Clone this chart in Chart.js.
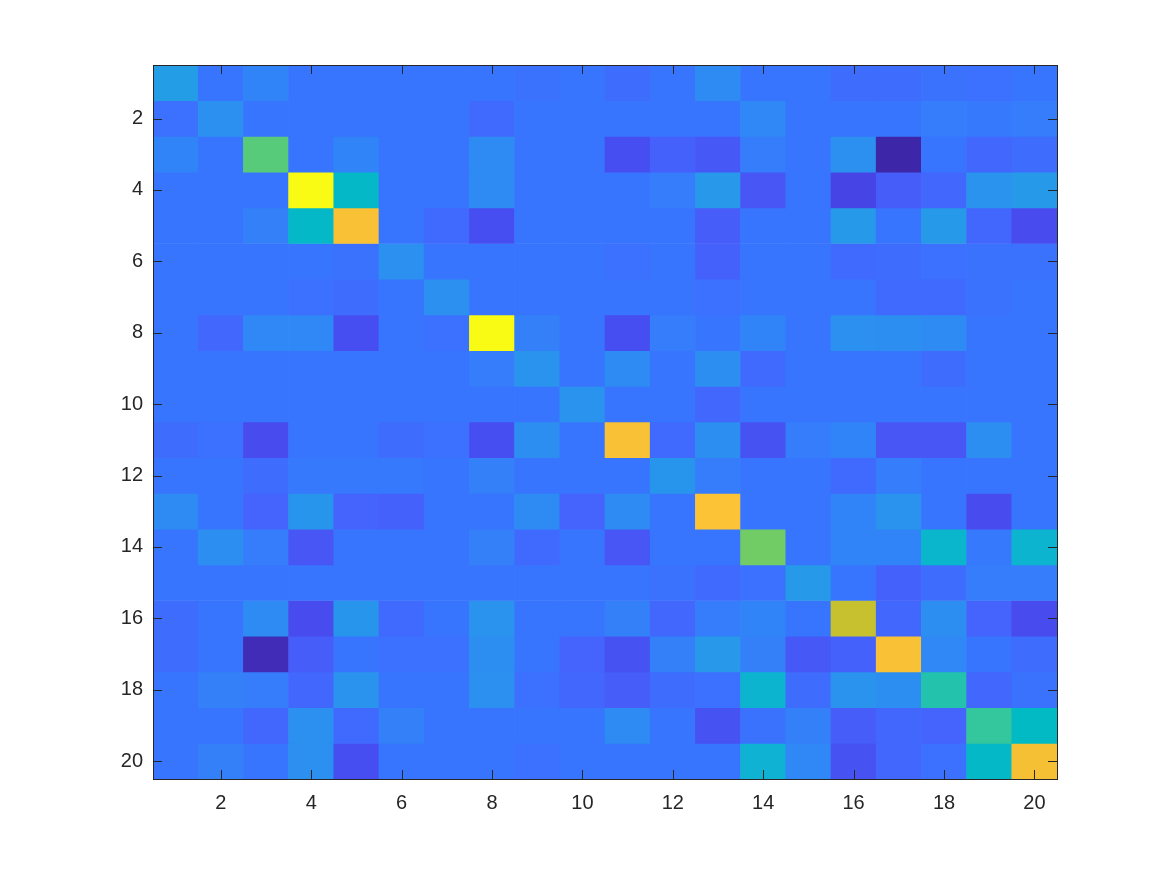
<!DOCTYPE html>
<html>
<head>
<meta charset="utf-8">
<script src="https://cdn.jsdelivr.net/npm/chart.js@4/dist/chart.umd.min.js"></script>
<style>
  html, body { margin: 0; padding: 0; background: #fff; }
  #wrap { width: 1167px; height: 875px; }
</style>
</head>
<body>
<div id="wrap"><canvas id="heat" width="1167" height="875"></canvas></div>
<script>
// ---- data: 20x20 matrix, row r = y, column c = x (values on the colour scale 0..1)
const rowLabels = [1,2,3,4,5,6,7,8,9,10,11,12,13,14,15,16,17,18,19,20];
const colLabels = [1,2,3,4,5,6,7,8,9,10,11,12,13,14,15,16,17,18,19,20];
const tickValues = [2,4,6,8,10,12,14,16,18,20];

const row1  = [0.38,0.25,0.29,0.25,0.25,0.25,0.25,0.25,0.24,0.25,0.22,0.25,0.31,0.25,0.25,0.22,0.22,0.24,0.23,0.25];
const row2  = [0.23,0.33,0.25,0.25,0.25,0.25,0.25,0.21,0.25,0.25,0.25,0.25,0.25,0.30,0.25,0.25,0.25,0.27,0.26,0.27];
const row3  = [0.29,0.25,0.64,0.25,0.29,0.25,0.25,0.31,0.25,0.25,0.13,0.18,0.16,0.27,0.25,0.33,0.00,0.25,0.20,0.22];
const row4  = [0.25,0.25,0.25,1.00,0.49,0.25,0.25,0.31,0.25,0.25,0.25,0.27,0.36,0.15,0.25,0.10,0.17,0.20,0.34,0.37];
const row5  = [0.25,0.25,0.28,0.49,0.86,0.25,0.21,0.13,0.25,0.25,0.25,0.25,0.17,0.25,0.25,0.37,0.25,0.37,0.20,0.12];
const row6  = [0.25,0.25,0.25,0.25,0.24,0.33,0.25,0.25,0.25,0.25,0.23,0.25,0.18,0.25,0.25,0.21,0.22,0.23,0.24,0.24];
const row7  = [0.25,0.25,0.25,0.23,0.22,0.25,0.33,0.25,0.25,0.25,0.25,0.25,0.23,0.25,0.25,0.25,0.21,0.21,0.24,0.25];
const row8  = [0.25,0.20,0.30,0.30,0.13,0.25,0.23,1.00,0.28,0.25,0.13,0.27,0.25,0.29,0.25,0.33,0.32,0.31,0.25,0.25];
const row9  = [0.25,0.25,0.25,0.25,0.25,0.25,0.25,0.27,0.34,0.25,0.31,0.25,0.32,0.21,0.25,0.25,0.25,0.22,0.25,0.25];
const row10 = [0.25,0.25,0.25,0.25,0.25,0.25,0.25,0.25,0.25,0.34,0.25,0.25,0.20,0.25,0.25,0.25,0.25,0.25,0.25,0.25];
const row11 = [0.22,0.23,0.12,0.25,0.25,0.22,0.23,0.13,0.32,0.25,0.86,0.21,0.32,0.14,0.27,0.29,0.15,0.15,0.32,0.25];
const row12 = [0.25,0.25,0.22,0.26,0.26,0.26,0.25,0.28,0.25,0.25,0.25,0.35,0.27,0.25,0.25,0.21,0.27,0.25,0.25,0.25];
const row13 = [0.31,0.25,0.19,0.35,0.19,0.18,0.25,0.25,0.31,0.19,0.31,0.25,0.87,0.25,0.25,0.29,0.34,0.25,0.12,0.25];
const row14 = [0.25,0.32,0.27,0.15,0.25,0.25,0.25,0.28,0.21,0.25,0.15,0.25,0.25,0.67,0.25,0.29,0.29,0.48,0.26,0.47];
const row15 = [0.25,0.25,0.25,0.25,0.25,0.25,0.25,0.25,0.25,0.25,0.25,0.24,0.21,0.23,0.37,0.25,0.18,0.22,0.27,0.27];
const row16 = [0.22,0.25,0.31,0.12,0.35,0.21,0.25,0.34,0.25,0.25,0.28,0.20,0.27,0.29,0.25,0.77,0.20,0.32,0.19,0.12];
const row17 = [0.22,0.25,0.02,0.17,0.25,0.23,0.23,0.32,0.25,0.19,0.14,0.28,0.36,0.28,0.16,0.18,0.86,0.30,0.25,0.22];
const row18 = [0.25,0.28,0.27,0.20,0.34,0.25,0.25,0.33,0.23,0.20,0.17,0.22,0.23,0.47,0.22,0.34,0.32,0.55,0.20,0.24];
const row19 = [0.25,0.25,0.20,0.33,0.21,0.28,0.25,0.25,0.25,0.25,0.31,0.25,0.14,0.24,0.28,0.17,0.20,0.19,0.58,0.50];
const row20 = [0.25,0.28,0.25,0.33,0.13,0.25,0.25,0.25,0.23,0.25,0.25,0.25,0.25,0.46,0.30,0.14,0.20,0.23,0.49,0.85];

const matrix = [row1,row2,row3,row4,row5,row6,row7,row8,row9,row10,
                row11,row12,row13,row14,row15,row16,row17,row18,row19,row20];

// parula colormap, sampled every 4th of 64 entries
const parula = [
  [0.2422,0.1504,0.6603],[0.2706,0.2147,0.8364],[0.2813,0.3006,0.9414],[0.2699,0.3892,0.9906],
  [0.2206,0.4603,0.9973],[0.1764,0.5499,0.9520],[0.1460,0.6091,0.9079],[0.0952,0.6798,0.8598],
  [0.0067,0.7312,0.7660],[0.1717,0.7670,0.6554],[0.2906,0.7973,0.5188],[0.5044,0.7993,0.3480],
  [0.7242,0.7698,0.1910],[0.9035,0.7330,0.1774],[0.9970,0.7659,0.2199],[0.9786,0.8386,0.1766],
  [0.9769,0.9839,0.0805]
];

const all = matrix.flat();
const vmin = Math.min(...all), vmax = Math.max(...all);

function colorFor(v) {
  const t = (v - vmin) / (vmax - vmin) * (parula.length - 1);
  const i = Math.min(Math.floor(t), parula.length - 2);
  const f = t - i;
  const a = parula[i], b = parula[i + 1];
  const rgb = a.map((c, k) => Math.round((c + (b[k] - c) * f) * 255));
  return 'rgb(' + rgb.join(',') + ')';
}

// one floating-bar dataset per row
const datasets = matrix.map((vals, ri) => ({
  data: vals.map((v, ci) => ({ x: colLabels[ci], y: [rowLabels[ri] - 0.5, rowLabels[ri] + 0.5] })),
  backgroundColor: vals.map(colorFor),
  borderWidth: 0,
  borderSkipped: false,
  grouped: false,
  barPercentage: 1,
  categoryPercentage: 1
}));

const axisColor = '#262626';

// matlab style box with inward ticks
const boxTicks = {
  id: 'boxTicks',
  afterDraw(chart) {
    const { ctx, chartArea: a, scales } = chart;
    const len = 9;
    ctx.save();
    ctx.strokeStyle = axisColor;
    ctx.lineWidth = 1;
    ctx.beginPath();
    tickValues.forEach(v => {
      const px = Math.round(scales.x.getPixelForValue(v)) + 0.5;
      ctx.moveTo(px, a.bottom); ctx.lineTo(px, a.bottom - len);
      ctx.moveTo(px, a.top); ctx.lineTo(px, a.top + len);
      const py = Math.round(scales.y.getPixelForValue(v)) + 0.5;
      ctx.moveTo(a.left, py); ctx.lineTo(a.left + len, py);
      ctx.moveTo(a.right, py); ctx.lineTo(a.right - len, py);
    });
    ctx.stroke();
    ctx.strokeRect(Math.round(a.left) + 0.5, Math.round(a.top) + 0.5,
                   Math.round(a.right - a.left), Math.round(a.bottom - a.top));
    ctx.restore();
  }
};

const tickFont = { family: '"Liberation Sans", Arial, Helvetica, sans-serif', size: 20 };

new Chart(document.getElementById('heat'), {
  type: 'bar',
  data: { datasets },
  options: {
    responsive: false,
    animation: false,
    layout: { padding: { top: 65, right: 110, left: 0, bottom: 0 } },
    plugins: { legend: { display: false }, tooltip: { enabled: false } },
    scales: {
      x: {
        type: 'linear',
        min: 0.5, max: 20.5,
        offset: false,
        grid: { display: false, drawTicks: false },
        border: { display: false },
        afterBuildTicks: s => { s.ticks = tickValues.map(v => ({ value: v })); },
        afterFit: s => { s.height = 96; },
        ticks: { color: axisColor, font: tickFont, padding: 12, maxRotation: 0, autoSkip: false }
      },
      y: {
        type: 'linear',
        reverse: true,
        min: 0.5, max: 20.5,
        grid: { display: false, drawTicks: false },
        border: { display: false },
        afterBuildTicks: s => { s.ticks = tickValues.map(v => ({ value: v })); },
        afterFit: s => { s.width = 153; },
        ticks: { color: axisColor, font: tickFont, padding: 10, autoSkip: false }
      }
    }
  },
  plugins: [boxTicks]
});
</script>
</body>
</html>
